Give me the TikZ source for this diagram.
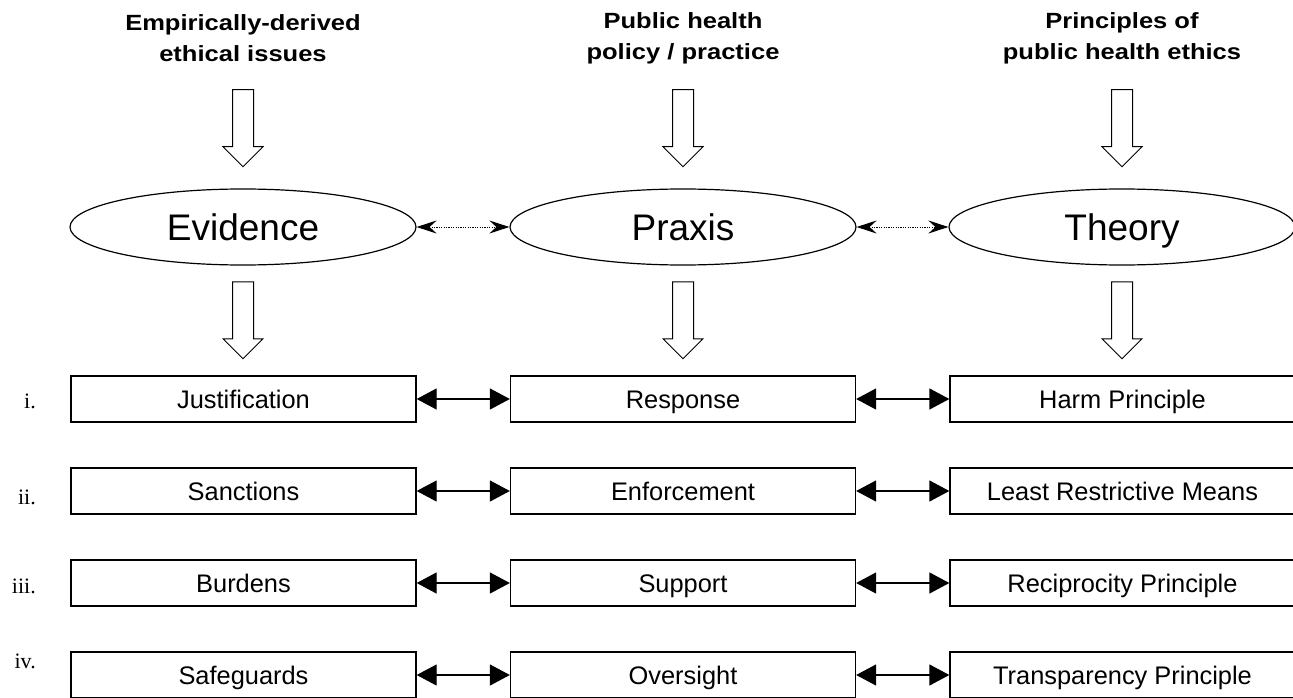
\documentclass[tikz,border=0pt]{standalone}
\usepackage{fontspec}
\setmainfont{Liberation Sans}
\newfontfamily\numfont{Liberation Serif}
\newfontfamily\headfont{Liberation Sans}[FakeStretch=1.16]
\usetikzlibrary{arrows.meta,shapes.geometric,shapes.arrows}
\tikzset{
    idea/.style={
           ellipse,
           draw=black, line width=1.2pt,
           minimum width=346pt,
           minimum height=76pt,
           inner sep=0pt,
           text height=27pt, text depth=0pt,
           font=\fontsize{37}{40}\selectfont,
           },
    item/.style={
           rectangle,
           draw=black, line width=1.3pt,
           minimum width=345pt,
           minimum height=46pt,
           inner sep=0pt,
           text height=19pt, text depth=0pt,
           font=\fontsize{25.4}{27}\selectfont,
           },
    heading/.style={
           align=center,
           inner sep=0pt,
           font=\headfont\bfseries\fontsize{22}{31}\selectfont,
           },
    feed/.style={
           single arrow,
           draw=black, line width=1pt,
           shape border rotate=270,
           minimum height=77pt,
           single arrow head extend=9.5pt,
           single arrow tip angle=90,
           inner sep=0pt,
           },
    numeral/.style={anchor=base east, inner sep=0pt, font=\numfont\fontsize{22}{24}\selectfont},
}

\begin{document}
\begin{tikzpicture}[x=1pt,y=-1pt]
	\tikzstyle{boxlink}=[<->,>={Triangle[length=20pt,width=21pt]},line width=1.3pt]
	\tikzstyle{dotlink}=[<->,>={Stealth[length=20pt,width=13pt,inset=7pt]},line width=1pt,dash pattern=on 1.2pt off 1.2pt]
	\useasboundingbox (0,0) rectangle (1293,698);

	% column headings
	\node[heading] (hEv) at (243,38) {Empirically-derived\\ethical issues};
	\node[heading] (hPr) at (683,38) {Public health\\policy / practice};
	\node[heading] (hTh) at (1122,38) {Principles of\\public health ethics};

	\node[feed] (fEv) at (243,123) {\rule{20pt}{0pt}};
	\node[feed] (fPr) at (683,123) {\rule{20pt}{0pt}};
	\node[feed] (fTh) at (1122,123) {\rule{20pt}{0pt}};

	% the three ellipses
	\node[idea] (ev) at (243,227) {Evidence};
	\node[idea] (pr) at (683,227) {Praxis};
	\node[idea] (th) at (1122,227) {Theory};

	\path[dotlink] (ev) edge (pr);
	\path[dotlink] (pr) edge (th);

	\node[feed] (gEv) at (243,315) {\rule{20pt}{0pt}};
	\node[feed] (gPr) at (683,315) {\rule{20pt}{0pt}};
	\node[feed] (gTh) at (1122,315) {\rule{20pt}{0pt}};

	% rows
	\node[item] (just) at (243.5,399) {Justification};
	\node[item] (resp) at (683,399) {Response};
	\node[item] (harm) at (1122.5,399) {Harm Principle};

	\node[item] (sanc) at (243.5,491) {Sanctions};
	\node[item] (enf)  at (683,491) {Enforcement};
	\node[item] (lrm)  at (1122.5,491) {Least Restrictive Means};

	\node[item] (burd) at (243.5,583) {Burdens};
	\node[item] (supp) at (683,583) {Support};
	\node[item] (reci) at (1122.5,583) {Reciprocity Principle};

	\node[item] (safe) at (243.5,675) {Safeguards};
	\node[item] (over) at (683,675) {Oversight};
	\node[item] (tran) at (1122.5,675) {Transparency Principle};

	\node[numeral] (n1) at (36,408) {i.};
	\node[numeral] (n2) at (36,504) {ii.};
	\node[numeral] (n3) at (36,593) {iii.};
	\node[numeral] (n4) at (36,668) {iv.};

	\path[boxlink] (just) edge (resp);
	\path[boxlink] (resp) edge (harm);
	\path[boxlink] (sanc) edge (enf);
	\path[boxlink] (enf) edge (lrm);
	\path[boxlink] (burd) edge (supp);
	\path[boxlink] (supp) edge (reci);
	\path[boxlink] (safe) edge (over);
	\path[boxlink] (over) edge (tran);

\end{tikzpicture}
\end{document}
